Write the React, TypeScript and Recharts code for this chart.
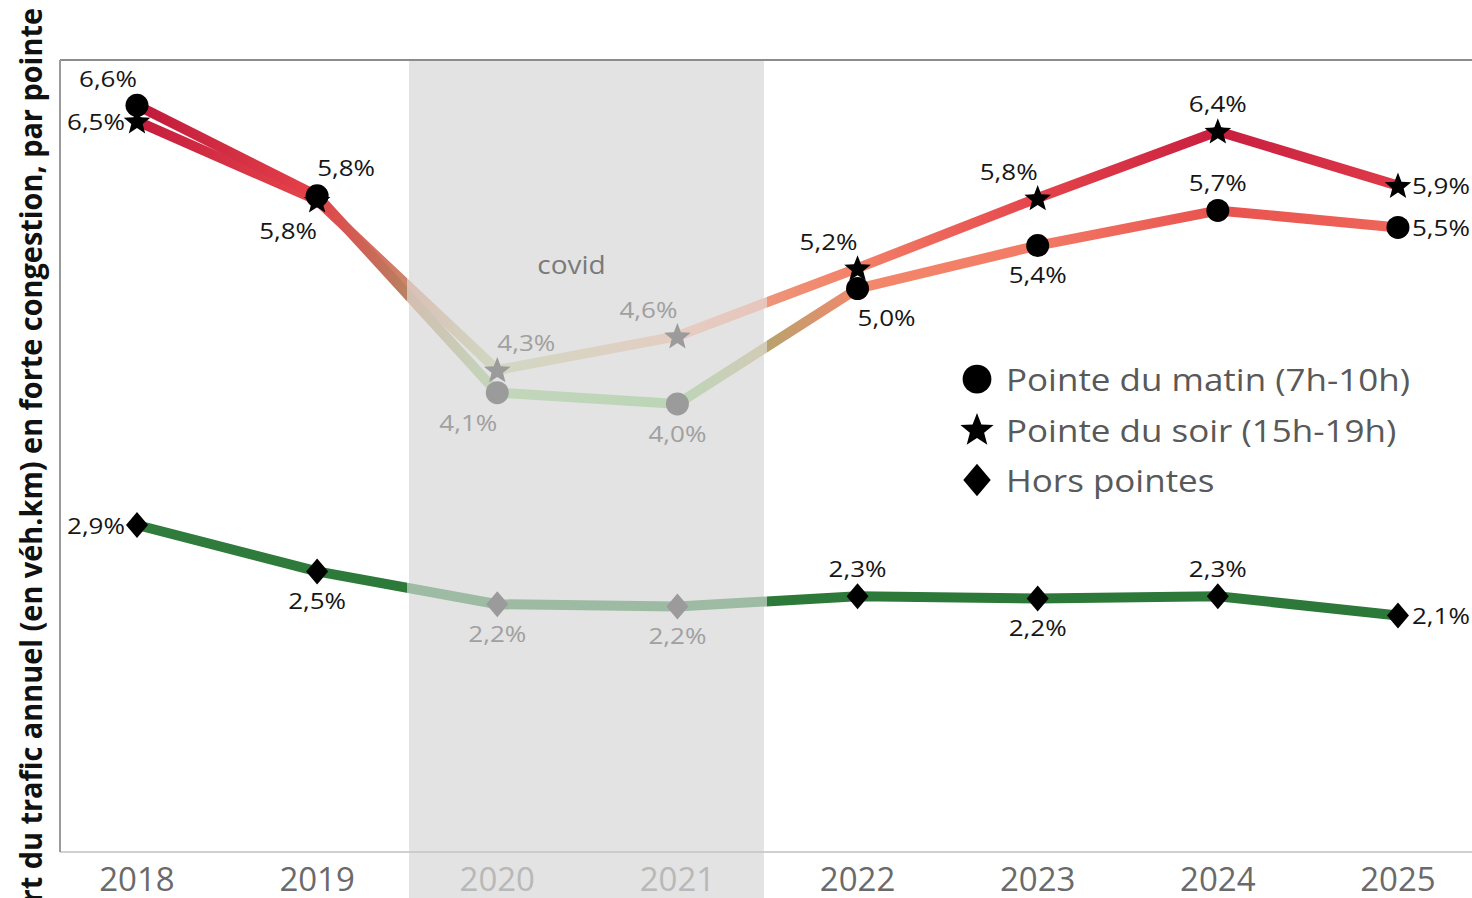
import React from 'react';
import { LineChart, Line, XAxis, YAxis, CartesianGrid, ReferenceArea, ReferenceLine, LabelList } from 'recharts';

const YEARS = [2018, 2019, 2020, 2021, 2022, 2023, 2024, 2025];
const COVID_YEARS = [2020, 2021];
const POINTE_MATIN = [6.6, 5.8, 4.06, 3.96, 4.98, 5.36, 5.67, 5.52];
const POINTE_SOIR = [6.46, 5.76, 4.26, 4.56, 5.16, 5.78, 6.37, 5.89];
const HORS_POINTES = [2.89, 2.48, 2.19, 2.17, 2.26, 2.24, 2.26, 2.09];
const Y_TICKS = [0, 0.5, 1, 1.5, 2, 2.5, 3, 3.5, 4, 4.5, 5, 5.5, 6, 6.5, 7];
const Y_TITLE = 'Part du trafic annuel (en véh.km) en forte congestion, par pointe';
const LEGEND_ITEMS = ['Pointe du matin (7h-10h)', 'Pointe du soir (15h-19h)', 'Hors pointes'];

// where each value label sits around its mark
const MATIN_LABEL_POS = ['tl', 'tr', 'bl', 'b', 'br', 'b', 't', 'r'];
const SOIR_LABEL_POS = ['l', 'bl', 'tr', 'tl', 'tl', 'tl', 't', 'r'];
const HORS_LABEL_POS = ['l', 'b', 'b', 'b', 't', 'b', 't', 'r'];

const data = YEARS.map((year, i) => ({
  year,
  matin: POINTE_MATIN[i],
  soir: POINTE_SOIR[i],
  hors: HORS_POINTES[i],
}));

// diverging green -> red scale on the value (like the tableau palette)
const COLOR_STOPS: [number, string][] = [
  [1.5, '#2a7436'],
  [3.0, '#2f7d3d'],
  [3.5, '#4f9e55'],
  [4.0, '#80c070'],
  [4.4, '#cdc79b'],
  [4.6, '#f0a088'],
  [5.0, '#f3876a'],
  [5.4, '#f27864'],
  [5.6, '#ec5a52'],
  [5.8, '#e4424a'],
  [6.0, '#d8304a'],
  [6.4, '#c71c3e'],
  [6.7, '#bc173a'],
];
const BAND = '#e3e3e3';
const FADE = 0.62;

const hexToRgb = (h: string) => [1, 3, 5].map((i) => parseInt(h.slice(i, i + 2), 16));
const rgbToHex = (c: number[]) => '#' + c.map((v) => Math.round(v).toString(16).padStart(2, '0')).join('');
const mix = (a: string, b: string, t: number) => {
  const ca = hexToRgb(a);
  const cb = hexToRgb(b);
  return rgbToHex(ca.map((v, i) => v + (cb[i] - v) * t));
};
const colorFor = (v: number) => {
  if (v <= COLOR_STOPS[0][0]) return COLOR_STOPS[0][1];
  for (let i = 1; i < COLOR_STOPS.length; i++) {
    const [v1, c1] = COLOR_STOPS[i];
    const [v0, c0] = COLOR_STOPS[i - 1];
    if (v <= v1) return mix(c0, c1, (v - v0) / (v1 - v0));
  }
  return COLOR_STOPS[COLOR_STOPS.length - 1][1];
};
const fade = (c: string) => mix(c, BAND, FADE);
const isCovid = (i: number) => COVID_YEARS.includes(YEARS[i]);

const gradientStops = (values: number[]) => {
  const n = YEARS.length - 1;
  const stops: { offset: number; color: string }[] = [];
  values.forEach((v, i) => {
    const c = colorFor(v);
    stops.push({ offset: i / n, color: isCovid(i) ? fade(c) : c });
    if (i < n && isCovid(i) !== isCovid(i + 1)) {
      // sharp change at the edge of the covid band
      const m = mix(c, colorFor(values[i + 1]), 0.5);
      const off = (i + 0.5) / n;
      stops.push({ offset: off, color: isCovid(i) ? fade(m) : m });
      stops.push({ offset: off, color: isCovid(i + 1) ? fade(m) : m });
    }
  });
  return stops;
};

const fmt = (v: number) => (Math.round(v * 10) / 10).toFixed(1).replace('.', ',') + '%';

const OFFSETS: Record<string, [number, number]> = {
  t: [0, -28],
  b: [0, 29],
  l: [-41, 0],
  r: [43, 0],
  tl: [-29, -27],
  tr: [29, -28],
  bl: [-29, 30],
  br: [29, 29],
};

const makeLabel = (positions: string[]) => (props: any) => {
  const { value, index } = props;
  const x = props.x ?? props.viewBox?.x;
  const y = props.y ?? props.viewBox?.y;
  const [dx, dy] = OFFSETS[positions[index]];
  return (
    <text
      transform={`translate(${x + dx},${y + dy}) scale(1,0.84)`}
      textAnchor="middle"
      dominantBaseline="central"
      fontFamily="Open Sans"
      fontSize={26}
      fill={isCovid(index) ? '#a0a0a0' : '#161616'}
    >
      {fmt(value)}
    </text>
  );
};

const starPoints = (cx: number, cy: number, ro: number, ri: number) => {
  const pts: string[] = [];
  for (let k = 0; k < 10; k++) {
    const r = k % 2 === 0 ? ro : ri;
    const a = -Math.PI / 2 + (k * Math.PI) / 5;
    pts.push(`${cx + r * Math.cos(a)},${cy + r * Math.sin(a)}`);
  }
  return pts.join(' ');
};

const Shape = ({ kind, cx, cy, fill, scale = 1 }: any) => {
  if (kind === 'circle') return <circle cx={cx} cy={cy} r={11.5 * scale} fill={fill} />;
  if (kind === 'star') return <polygon points={starPoints(cx, cy + 1, 14 * scale, 6 * scale)} fill={fill} />;
  const w = 11 * scale;
  const h = 13 * scale;
  return <polygon points={`${cx},${cy - h} ${cx + w},${cy} ${cx},${cy + h} ${cx - w},${cy}`} fill={fill} />;
};

const makeDot = (kind: string) => (props: any) => (
  <Shape
    key={`${kind}-${props.index}`}
    kind={kind}
    cx={props.cx}
    cy={props.cy}
    fill={isCovid(props.index) ? '#9b9b9b' : '#000000'}
  />
);

const YearTick = (props: any) => {
  const { x, y, payload } = props;
  const covid = COVID_YEARS.includes(payload.value);
  return (
    <text x={x} y={y + 8} dy="0.71em" textAnchor="middle" fontFamily="Open Sans" fontSize={33} fill={covid ? '#b8b8b8' : '#6a6a6a'}>
      {payload.value}
    </text>
  );
};

const YTitle = (props: any) => {
  const vb = props.viewBox || { x: 0, y: 60, width: 60, height: 792 };
  const x = vb.x + 42;
  const y = vb.y + vb.height / 2 + 17;
  return (
    <text
      transform={`translate(${x},${y}) rotate(-90)`}
      textAnchor="middle"
      fontFamily="Open Sans"
      fontWeight={700}
      fontSize={30}
      textLength={930}
      lengthAdjust="spacingAndGlyphs"
      fill="#111111"
    >
      {Y_TITLE}
    </text>
  );
};

const CovidLabel = (props: any) => {
  const vb = props.viewBox;
  return (
    <text
      transform={`translate(${vb.x + vb.width / 2 - 15},${vb.y + 214}) scale(1,0.9)`}
      textAnchor="middle"
      fontFamily="Open Sans"
      fontSize={28}
      fill="#7a7a7a"
    >
      covid
    </text>
  );
};

const SeriesGradient = ({ id, values }: { id: string; values: number[] }) => (
  <linearGradient id={id} x1="0" y1="0" x2="1" y2="0">
    {gradientStops(values).map((s, i) => (
      <stop key={i} offset={s.offset} stopColor={s.color} />
    ))}
  </linearGradient>
);

const LegendBox = () => {
  const kinds = ['circle', 'star', 'diamond'];
  return (
    <svg width={470} height={165} style={{ position: 'absolute', left: 955, top: 347 }}>
      <rect x={2} y={4} width={465} height={158} fill="#ffffff" />
      {LEGEND_ITEMS.map((name, i) => {
        const cy = 32 + i * 50.5;
        return (
          <g key={name}>
            <Shape kind={kinds[i]} cx={22} cy={cy} fill="#000000" scale={1.25} />
            <text
              transform={`translate(51,${cy}) scale(1,0.9)`}
              dominantBaseline="central"
              fontFamily="Open Sans"
              fontSize={35}
              fill="#595959"
            >
              {name}
            </text>
          </g>
        );
      })}
    </svg>
  );
};

export default function App() {
  return (
    <div style={{ position: 'absolute', left: 0, top: 0, width: 1472, height: 898, background: '#ffffff', overflow: 'hidden' }}>
      <LineChart width={1472} height={898} data={data} margin={{ top: 60, right: 0, left: 0, bottom: 0 }}>
        <defs>
          <SeriesGradient id="grad-matin" values={POINTE_MATIN} />
          <SeriesGradient id="grad-soir" values={POINTE_SOIR} />
          <SeriesGradient id="grad-hors" values={HORS_POINTES} />
        </defs>
        <CartesianGrid vertical={false} stroke="#efefef" strokeWidth={1.5} />
        <XAxis
          dataKey="year"
          type="number"
          domain={[2017.5726, 2025.411]}
          allowDataOverflow
          ticks={YEARS}
          interval={0}
          tick={<YearTick />}
          tickLine={false}
          axisLine={{ stroke: '#c4c4c4', strokeWidth: 1.5 }}
          height={46}
        />
        <YAxis
          width={60}
          domain={[0, 7]}
          ticks={Y_TICKS}
          tick={false}
          tickLine={false}
          axisLine={{ stroke: '#9a9a9a', strokeWidth: 2 }}
          label={<YTitle />}
        />
        <ReferenceArea
          x1={2019.51}
          x2={2021.48}
          y1={-0.41}
          y2={7}
          ifOverflow="visible"
          fill={BAND}
          fillOpacity={1}
          stroke="none"
          label={<CovidLabel />}
        />
        <ReferenceLine y={7} stroke="#8c8c8c" strokeWidth={2} />
        <Line
          dataKey="hors"
          type="linear"
          stroke="url(#grad-hors)"
          strokeWidth={10}
          dot={makeDot('diamond')}
          activeDot={false}
          isAnimationActive={false}
        >
          <LabelList dataKey="hors" content={makeLabel(HORS_LABEL_POS)} />
        </Line>
        <Line
          dataKey="soir"
          type="linear"
          stroke="url(#grad-soir)"
          strokeWidth={10}
          dot={makeDot('star')}
          activeDot={false}
          isAnimationActive={false}
        >
          <LabelList dataKey="soir" content={makeLabel(SOIR_LABEL_POS)} />
        </Line>
        <Line
          dataKey="matin"
          type="linear"
          stroke="url(#grad-matin)"
          strokeWidth={10}
          dot={makeDot('circle')}
          activeDot={false}
          isAnimationActive={false}
        >
          <LabelList dataKey="matin" content={makeLabel(MATIN_LABEL_POS)} />
        </Line>
      </LineChart>
      <LegendBox />
    </div>
  );
}
